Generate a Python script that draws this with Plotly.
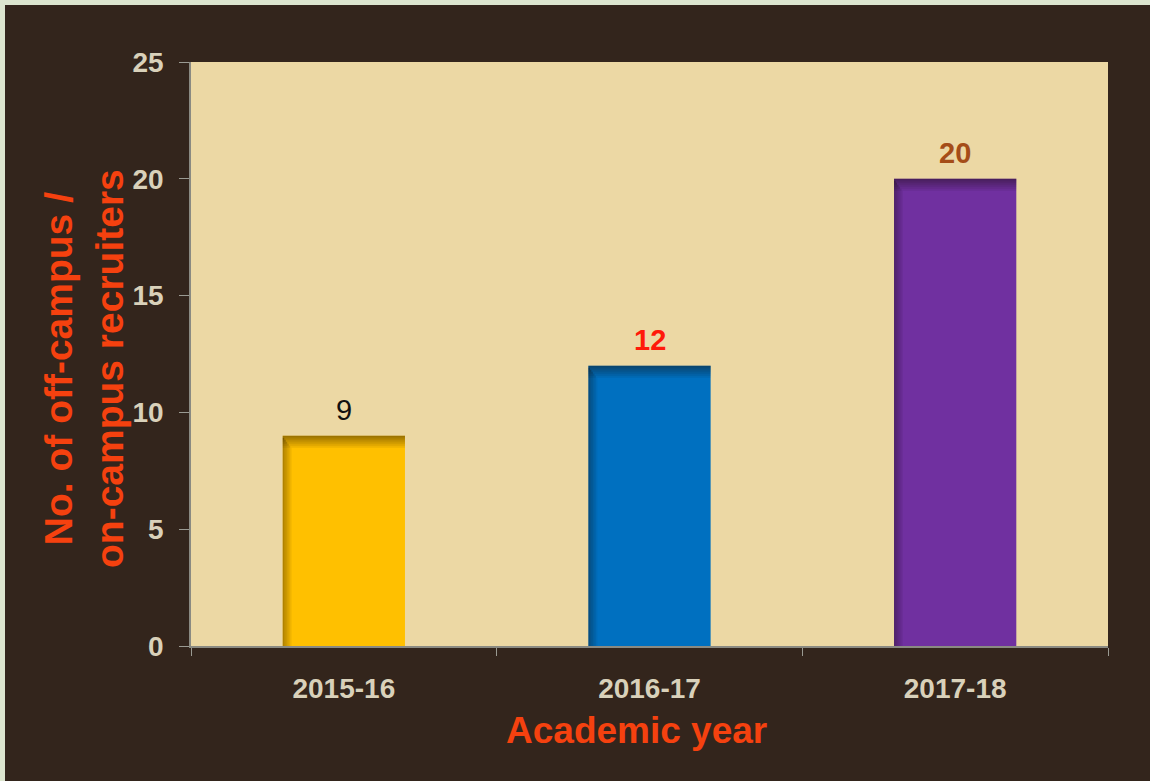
import plotly.graph_objects as go

years = ["2015-16", "2016-17", "2017-18"]
recruiters = [9, 12, 20]
bar_colors = ["#ffc000", "#0070c0", "#7030a0"]
label_colors = ["#111111", "#ff1a0a", "#a54d18"]
label_weights = ["normal", "bold", "bold"]
y_ticks = [0, 5, 10, 15, 20, 25]

W, H = 1150, 781
ml, mr, mt, mb = 191, 42, 62, 135
pw, ph = W - ml - mr, H - mt - mb
YMAX = 25
BAR_W = 0.4

FONT = "Liberation Sans, Arial, sans-serif"
TITLE_COLOR = "#f5410f"

fig = go.Figure()
fig.add_trace(go.Bar(
    x=years, y=recruiters,
    marker=dict(color=bar_colors, line=dict(width=0)),
    width=BAR_W, hoverinfo="x+y", showlegend=False,
))

# soft inner shadow along the top and left edge of every bar
px_y = YMAX / ph            # data units per pixel (vertical)
px_x = len(years) / pw      # category units per pixel (horizontal)
steps = 6
for i, v in enumerate(recruiters):
    for k in range(steps):
        a = 0.42 * (1 - k / steps)
        fig.add_shape(type="rect", xref="x", yref="y", layer="above",
                      x0=i - BAR_W / 2, x1=i + BAR_W / 2,
                      y0=v - (k + 1) * 2 * px_y, y1=v - k * 2 * px_y,
                      line=dict(width=0), fillcolor=f"rgba(20,10,0,{a:.3f})")
        fig.add_shape(type="rect", xref="x", yref="y", layer="above",
                      x0=i - BAR_W / 2 + k * 1.5 * px_x, x1=i - BAR_W / 2 + (k + 1) * 1.5 * px_x,
                      y0=0, y1=v - (k + 1) * 2 * px_y,
                      line=dict(width=0), fillcolor=f"rgba(20,10,0,{a * 0.8:.3f})")

for yr, v, c, w in zip(years, recruiters, label_colors, label_weights):
    fig.add_annotation(
        x=yr, y=v, text=str(v), showarrow=False, yanchor="bottom", yshift=8,
        font=dict(family=FONT, size=29, color=c, weight=w),
    )

# axis titles
fig.add_annotation(
    xref="paper", yref="paper", x=0.5 - 13 / pw, y=-(730 - mt - ph) / ph - 0.0,
    text="Academic year", showarrow=False, xanchor="center", yanchor="middle",
    font=dict(family=FONT, size=37, color=TITLE_COLOR, weight="bold"),
)
fig.add_annotation(
    xref="paper", yref="paper", x=-(ml - 84) / pw, y=0.5 - 15 / ph,
    text="No. of off-campus /<br>on-campus recruiters", showarrow=False, textangle=-90,
    xanchor="center", yanchor="middle",
    font=dict(family=FONT, size=39, color=TITLE_COLOR, weight="bold"),
)

# light frame on the top and left edges
b = 5
frame = "#dce5cf"
fig.add_shape(type="line", xref="paper", yref="paper",
              x0=-(ml - b / 2) / pw, x1=1 + mr / pw,
              y0=1 + (mt - b / 2) / ph, y1=1 + (mt - b / 2) / ph,
              line=dict(color=frame, width=b), layer="above")
fig.add_shape(type="line", xref="paper", yref="paper",
              x0=-(ml - b / 2) / pw, x1=-(ml - b / 2) / pw,
              y0=-mb / ph, y1=1 + mt / ph,
              line=dict(color=frame, width=b), layer="above")

tick_font = dict(family=FONT, size=28, color="#d9d1ba", weight="bold")

fig.update_layout(
    width=W, height=H,
    margin=dict(l=ml, r=mr, t=mt, b=mb),
    paper_bgcolor="#33251c",
    plot_bgcolor="#ecd8a4",
    bargap=0.6,
    xaxis=dict(
        showline=True, linecolor="#8a8a82", linewidth=1.5,
        ticks="outside", tickson="boundaries", ticklen=8, tickcolor="#9a9a92",
        tickfont=tick_font, ticklabelstandoff=17,
        showgrid=False,
    ),
    yaxis=dict(
        range=[0, YMAX], tickvals=y_ticks,
        showline=True, linecolor="#8a8a82", linewidth=1.5,
        ticks="outside", ticklen=10, tickcolor="#9a9a92",
        tickfont=tick_font, ticklabelstandoff=10,
        showgrid=False, zeroline=False,
    ),
)

fig.write_html("out.html", config={"displayModeBar": False},
               post_script="document.body.style.margin='0';")
